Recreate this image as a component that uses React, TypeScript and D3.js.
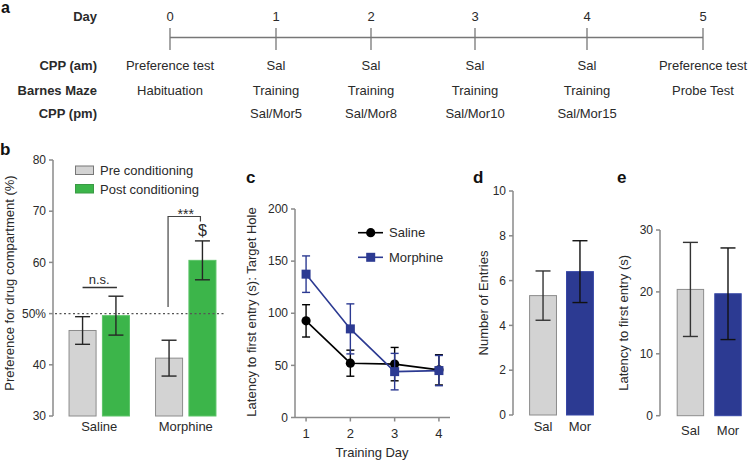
import React from "react";
import * as d3 from "d3";

// ---------- Panel a: timeline ----------
const days = [0, 1, 2, 3, 4, 5];
const rowLabels = ["Day", "CPP (am)", "Barnes Maze", "CPP (pm)"];
const cppAm = ["Preference test", "Sal", "Sal", "Sal", "Sal", "Preference test"];
const barnesMaze = ["Habituation", "Training", "Training", "Training", "Training", "Probe Test"];
const cppPm = ["", "Sal/Mor5", "Sal/Mor8", "Sal/Mor10", "Sal/Mor15", ""];

// ---------- Panel b: CPP ----------
const bGroups = ["Saline", "Morphine"];
const bPhases = ["Pre conditioning", "Post conditioning"];
const bPre = [46.7, 41.3];
const bPreErr = [2.7, 3.5];
const bPost = [49.6, 60.4];
const bPostErr = [3.8, 3.8];
const bTicks = [30, 40, 50, 60, 70, 80];

// ---------- Panel c: latency across training ----------
const trainingDays = [1, 2, 3, 4];
const salineLatency = [92.7, 52.1, 51.2, 45.7];
const salineLatencyErr = [15.5, 12.5, 16, 14.5];
const morphineLatency = [137.5, 85, 44, 45];
const morphineLatencyErr = [17.5, 24, 17.5, 14.5];
const cTicks = [0, 50, 100, 150, 200];
const cSeries = ["Saline", "Morphine"];

// ---------- Panel d / e: probe test ----------
const probeGroups = ["Sal", "Mor"];
const entries = [5.33, 6.4];
const entriesErr = [1.1, 1.38];
const dTicks = [0, 2, 4, 6, 8, 10];
const firstEntry = [20.4, 19.7];
const firstEntryErr = [7.6, 7.4];
const eTicks = [0, 10, 20, 30];

const FONT = "'Liberation Sans', Arial, Helvetica, sans-serif";
const AXIS = "#8a8a8a";
const TXT = "#2a2a2a";
const GRAY = "#d3d3d3";
const GRAY_S = "#8c8c8c";
const GREEN = "#3cb54a";
const GREEN_S = "#5cc468";
const BLUE = "#2c3a92";
const BLUE_S = "#3646a6";
const ERR = "#262626";

type Scale = (v: number) => number;

function YAxis({ scale, x, ticks, fmt }: { scale: Scale; x: number; ticks: number[]; fmt?: (t: number) => string }) {
  const top = scale(d3.max(ticks)!);
  const bot = scale(d3.min(ticks)!);
  return (
    <g>
      <line x1={x} x2={x} y1={top} y2={bot} stroke={AXIS} strokeWidth={1.5} />
      {ticks.map((t) => (
        <g key={t}>
          <line x1={x - 4} x2={x} y1={scale(t)} y2={scale(t)} stroke={AXIS} strokeWidth={1.5} />
          <text x={x - 7} y={scale(t)} dy="0.35em" textAnchor="end" fontSize={12} fill={TXT}>
            {fmt ? fmt(t) : String(t)}
          </text>
        </g>
      ))}
    </g>
  );
}

function ErrBar({ x, y0, y1, half, color = ERR, w = 1.4 }: { x: number; y0: number; y1: number; half: number; color?: string; w?: number }) {
  return (
    <g stroke={color} strokeWidth={w}>
      <line x1={x} x2={x} y1={y0} y2={y1} />
      <line x1={x - half} x2={x + half} y1={y0} y2={y0} />
      <line x1={x - half} x2={x + half} y1={y1} y2={y1} />
    </g>
  );
}

function YLabel({ x, cy, text }: { x: number; cy: number; text: string }) {
  return (
    <text transform={`rotate(-90)`} x={-cy} y={x} textAnchor="middle" fontSize={13} fill={TXT}>
      {text}
    </text>
  );
}

function PanelLetter({ x, y, t }: { x: number; y: number; t: string }) {
  return (
    <text x={x} y={y} fontSize={17} fontWeight="bold" fill="#111">
      {t}
    </text>
  );
}

function PanelA() {
  const x = d3.scaleLinear().domain(days).range([170, 276, 371, 475, 587, 703]);
  const rowY = [16, 65, 90, 113];
  const rows = [cppAm, barnesMaze, cppPm];
  const lineY = 37.5;
  return (
    <g>
      <text x={1} y={13} fontSize={16} fontWeight="bold" fill="#111">a</text>
      {rowLabels.map((l, i) => (
        <text key={l} x={97} y={rowY[i]} dy="0.35em" textAnchor="end" fontSize={13} fontWeight="bold" fill={TXT}>
          {l}
        </text>
      ))}
      {days.map((d) => (
        <text key={d} x={x(d)} y={rowY[0]} dy="0.35em" textAnchor="middle" fontSize={13} fill={TXT}>
          {d}
        </text>
      ))}
      <line x1={x(days[0])} x2={x(days[days.length - 1])} y1={lineY} y2={lineY} stroke="#777" strokeWidth={1.3} />
      {days.map((d) => (
        <line key={d} x1={x(d)} x2={x(d)} y1={28} y2={50} stroke="#777" strokeWidth={1.3} />
      ))}
      {rows.map((row, ri) =>
        row.map((t, i) =>
          t ? (
            <text key={ri + "-" + i} x={x(days[i])} y={rowY[ri + 1]} dy="0.35em" textAnchor="middle" fontSize={13} fill={TXT}>
              {t}
            </text>
          ) : null
        )
      )}
    </g>
  );
}

function PanelB() {
  const y = d3.scaleLinear().domain([30, 80]).range([416, 160]);
  const axisX = 53;
  const xg = d3.scaleBand().domain(bGroups).range([56, 229]).paddingInner(0.29).paddingOuter(0.145);
  const xp = d3.scaleBand().domain(bPhases).range([0, xg.bandwidth()]).paddingInner(0.16);
  const fills = [GRAY, GREEN];
  const strokes = [GRAY_S, GREEN_S];
  const vals = [bPre, bPost];
  const errs = [bPreErr, bPostErr];
  const cx = (g: number, p: number) => xg(bGroups[g])! + xp(bPhases[p])! + xp.bandwidth() / 2;
  return (
    <g>
      <PanelLetter x={0} y={155} t="b" />
      <YLabel x={14} cy={283} text="Preference for drug compartment (%)" />
      <YAxis scale={y} x={axisX} ticks={bTicks} fmt={(t) => (t === 50 ? "50%" : String(t))} />
      {bGroups.map((g, gi) =>
        bPhases.map((p, pi) => (
          <rect
            key={g + p}
            x={xg(g)! + xp(p)! + 0.5}
            y={y(vals[pi][gi])}
            width={xp.bandwidth() - 1}
            height={y(30) - y(vals[pi][gi])}
            fill={fills[pi]}
            stroke={strokes[pi]}
            strokeWidth={1}
          />
        ))
      )}
      <line x1={55} x2={225} y1={y(50)} y2={y(50)} stroke="#555" strokeWidth={1.2} strokeDasharray="2,2.5" />
      {bGroups.map((g, gi) =>
        bPhases.map((p, pi) => (
          <ErrBar key={"e" + g + p} x={cx(gi, pi)} y0={y(vals[pi][gi] + errs[pi][gi])} y1={y(vals[pi][gi] - errs[pi][gi])} half={7.5} />
        ))
      )}
      {bGroups.map((g) => (
        <text key={g} x={xg(g)! + xg.bandwidth() / 2} y={431} textAnchor="middle" fontSize={13} fill={TXT}>
          {g}
        </text>
      ))}
      {/* legend */}
      {bPhases.map((p, i) => (
        <g key={p}>
          <rect x={75.5} y={166 + i * 18.5} width={18} height={8.5} fill={fills[i]} stroke={i === 0 ? "#777" : "#3a9a45"} strokeWidth={1} />
          <text x={100} y={170.5 + i * 18.5} dy="0.35em" fontSize={13} fill={TXT}>{p}</text>
        </g>
      ))}
      {/* n.s. */}
      <line x1={cx(0, 0)} x2={cx(0, 1) + 1} y1={287.5} y2={287.5} stroke="#333" strokeWidth={1.3} />
      <text x={(cx(0, 0) + cx(0, 1)) / 2} y={283.5} textAnchor="middle" fontSize={13} fill={TXT}>n.s.</text>
      {/* *** bracket */}
      <polyline
        points={`${cx(1, 0) - 1},${307} ${cx(1, 0) - 1},${216.5} ${cx(1, 1) - 2},${216.5} ${cx(1, 1) - 2},${221.5}`}
        fill="none"
        stroke="#444"
        strokeWidth={1.2}
      />
      <text x={(cx(1, 0) + cx(1, 1)) / 2} y={219} textAnchor="middle" fontSize={14} fill={TXT}>***</text>
      <text x={cx(1, 1)} y={236} textAnchor="middle" fontSize={16} fill={TXT}>$</text>
    </g>
  );
}

function PanelC() {
  const y = d3.scaleLinear().domain([0, 200]).range([417.5, 209]);
  const x = d3.scaleLinear().domain([0.75, 4.25]).range([295, 450]);
  const line = d3
    .line<number>()
    .x((_, i) => x(trainingDays[i]))
    .y((d) => y(d));
  const series = [
    { name: cSeries[0], v: salineLatency, e: salineLatencyErr, color: "#000", marker: "circle" },
    { name: cSeries[1], v: morphineLatency, e: morphineLatencyErr, color: BLUE, marker: "square" },
  ];
  const marker = (m: string, cx: number, cy: number, color: string, key: string) =>
    m === "circle" ? (
      <circle key={key} cx={cx} cy={cy} r={4.6} fill={color} />
    ) : (
      <rect key={key} x={cx - 4.5} y={cy - 4.5} width={9} height={9} fill={color} />
    );
  return (
    <g>
      <PanelLetter x={246} y={183} t="c" />
      <YLabel x={256} cy={312} text="Latency to first entry (s): Target Hole" />
      <YAxis scale={y} x={295} ticks={cTicks} />
      <line x1={295} x2={450} y1={y(0)} y2={y(0)} stroke={AXIS} strokeWidth={1.5} />
      {trainingDays.map((d) => (
        <g key={d}>
          <line x1={x(d)} x2={x(d)} y1={y(0)} y2={y(0) + 4} stroke={AXIS} strokeWidth={1.5} />
          <text x={x(d)} y={437.5} textAnchor="middle" fontSize={13} fill={TXT}>{d}</text>
        </g>
      ))}
      <text x={372} y={457} textAnchor="middle" fontSize={13} fill={TXT}>Training Day</text>
      {series.map((s) => (
        <g key={s.name}>
          <path d={line(s.v)!} fill="none" stroke={s.color} strokeWidth={1.6} />
          {s.v.map((v, i) => (
            <ErrBar key={i} x={x(trainingDays[i])} y0={y(v + s.e[i])} y1={y(v - s.e[i])} half={4} color={s.color} w={1.4} />
          ))}
          {s.v.map((v, i) => marker(s.marker, x(trainingDays[i]), y(v), s.color, "m" + i))}
        </g>
      ))}
      {series.map((s, i) => (
        <g key={"lg" + s.name}>
          <line x1={358} x2={383} y1={232.7 + i * 24.6} y2={232.7 + i * 24.6} stroke={s.color} strokeWidth={1.6} />
          {marker(s.marker, 370.7, 232.7 + i * 24.6, s.color, "lm" + i)}
          <text x={389} y={232.7 + i * 24.6} dy="0.35em" fontSize={13} fill={TXT}>{s.name}</text>
        </g>
      ))}
    </g>
  );
}

function ProbePanel({
  letter, letterX, labelX, label, ticks, domainMax, yTop, yBot, axisX, rangeEnd, padIn, padOut, values, errs, labelY,
}: {
  letter: string; letterX: number; labelX: number; label: string; ticks: number[]; domainMax: number; yTop: number; yBot: number;
  axisX: number; rangeEnd: number; padIn: number; padOut: number; values: number[]; errs: number[]; labelY: number;
}) {
  const y = d3.scaleLinear().domain([0, domainMax]).range([yBot, yTop]);
  const x = d3.scaleBand().domain(probeGroups).range([axisX, rangeEnd]).paddingInner(padIn).paddingOuter(padOut);
  const fills = [GRAY, BLUE];
  const strokes = [GRAY_S, BLUE_S];
  return (
    <g>
      <PanelLetter x={letterX} y={183} t={letter} />
      <YLabel x={labelX} cy={(yTop + yBot) / 2} text={label} />
      <YAxis scale={y} x={axisX} ticks={ticks} />
      {probeGroups.map((g, i) => (
        <rect key={g} x={x(g)! + 0.5} y={y(values[i])} width={x.bandwidth() - 1} height={yBot - y(values[i])} fill={fills[i]} stroke={strokes[i]} strokeWidth={1} />
      ))}
      {probeGroups.map((g, i) => (
        <ErrBar key={"e" + g} x={x(g)! + x.bandwidth() / 2} y0={y(values[i] + errs[i])} y1={y(values[i] - errs[i])} half={7.5} color={i === 0 ? "#333" : "#111"} />
      ))}
      {probeGroups.map((g) => (
        <text key={"t" + g} x={x(g)! + x.bandwidth() / 2} y={labelY} textAnchor="middle" fontSize={13} fill={TXT}>{g}</text>
      ))}
    </g>
  );
}

export default function App() {
  return (
    <svg
      width={749}
      height={460}
      viewBox="0 0 749 460"
      style={{ position: "absolute", left: 0, top: 0, background: "#fff", fontFamily: FONT }}
    >
      <rect x={0} y={0} width={749} height={460} fill="#fff" />
      <PanelA />
      <PanelB />
      <PanelC />
      <ProbePanel
        letter="d" letterX={473} labelX={488} label="Number of Entries" ticks={dTicks} domainMax={10}
        yTop={191} yBot={415} axisX={513} rangeEnd={610} padIn={0.245} padOut={0.436}
        values={entries} errs={entriesErr} labelY={431}
      />
      <ProbePanel
        letter="e" letterX={617} labelX={628} label="Latency to first entry (s)" ticks={eTicks} domainMax={30}
        yTop={230} yBot={415.7} axisX={660} rangeEnd={758.4} padIn={0.27} padOut={0.444}
        values={firstEntry} errs={firstEntryErr} labelY={435}
      />
    </svg>
  );
}
